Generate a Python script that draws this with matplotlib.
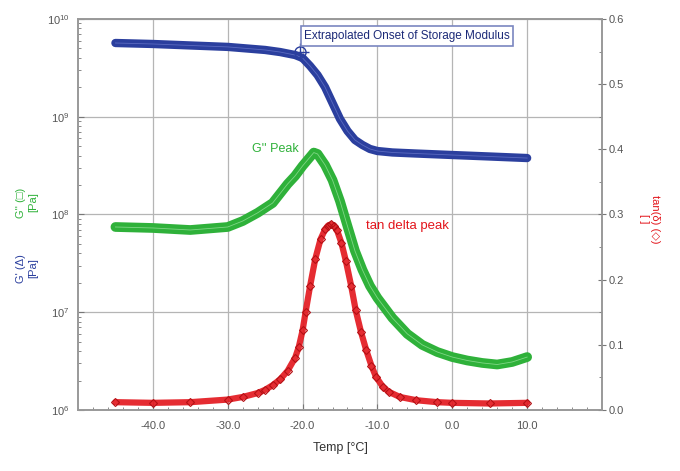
import matplotlib
matplotlib.use("Agg")
import matplotlib.pyplot as plt
from matplotlib.ticker import LogLocator, MultipleLocator, NullFormatter, FixedLocator

plt.rcParams['font.family'] = ['Liberation Sans', 'DejaVu Sans']

# Storage modulus G' (Pa)
t_gp = [-45, -40, -35, -30, -25, -23, -21, -20, -19, -18, -17, -16, -15, -14, -13, -12,
        -11, -10, -8, -5, 0, 5, 10]
g_prime = [5.68e9, 5.55e9, 5.36e9, 5.18e9, 4.82e9, 4.59e9, 4.28e9, 3.99e9, 3.31e9, 2.67e9,
           2.01e9, 1.38e9, 9.5e8, 7.15e8, 5.78e8, 5.14e8, 4.68e8, 4.46e8, 4.31e8, 4.21e8,
           4.06e8, 3.92e8, 3.78e8]

# Loss modulus G'' (Pa)
t_gpp = [-45, -40, -35, -30, -28, -26, -24, -22, -21, -20, -19, -18.5, -18, -17, -16, -15,
         -14, -13, -12, -11, -10, -8, -6, -4, -2, 0, 2, 4, 6, 8, 10]
g_dprime = [7.45e7, 7.28e7, 6.94e7, 7.45e7, 8.57e7, 1.04e8, 1.31e8, 2.05e8, 2.48e8, 3.14e8,
            3.87e8, 4.30e8, 4.16e8, 3.21e8, 2.25e8, 1.37e8, 7.6e7, 4.24e7, 2.71e7, 1.86e7,
            1.40e7, 8.74e6, 6.0e6, 4.63e6, 3.92e6, 3.48e6, 3.21e6, 3.03e6, 2.92e6, 3.1e6, 3.48e6]

# tan delta
t_tan = [-45, -40, -35, -30, -28, -26, -25, -24, -23, -22, -21, -20.5, -20, -19.6, -19,
         -18.3, -17.6, -17, -16.6, -16.2, -15.8, -15.4, -14.8, -14.2, -13.5, -12.9, -12.2,
         -11.5, -10.8, -10.2, -9.3, -8.5, -7, -4.8, -2, 0, 5, 10]
tan_delta = [0.012, 0.011, 0.012, 0.016, 0.020, 0.026, 0.031, 0.038, 0.047, 0.060, 0.080,
             0.097, 0.122, 0.150, 0.190, 0.232, 0.262, 0.277, 0.283, 0.285, 0.283, 0.276,
             0.256, 0.228, 0.190, 0.153, 0.120, 0.092, 0.068, 0.051, 0.036, 0.028,
             0.020, 0.015, 0.012, 0.011, 0.010, 0.011]

onset_t, onset_g = -20.3, 4.6e9
x_ticks = [-40, -30, -20, -10, 0, 10]
x_ticklabels = ['-40.0', '-30.0', '-20.0', '-10.0', '0.0', '10.0']

BLUE = '#2b3f9e'
GREEN = '#2fb13a'
RED = '#e3151c'
TXT = '#555555'

fig = plt.figure(figsize=(6.8, 4.71), dpi=100)
ax = fig.add_axes([0.1147, 0.1295, 0.7706, 0.8302])
ax2 = ax.twinx()

ax.set_yscale('log')
ax.set_xlim(-50, 20)
ax.set_ylim(1e6, 1e10)
ax2.set_ylim(0, 0.6)

ax.grid(True, which='major', color='#b5b5b5', lw=0.9)
ax.set_axisbelow(True)

ax.plot(t_gp, g_prime, color=BLUE, lw=6, solid_capstyle='round', solid_joinstyle='round', zorder=3)
ax.plot(t_gp, g_prime, color='#5a6ac0', lw=0.6, zorder=4)
ax.plot(t_gpp, g_dprime, color=GREEN, lw=7, solid_capstyle='round', solid_joinstyle='round', zorder=3)
ax.plot(t_gpp, g_dprime, color='#7fd685', lw=0.6, zorder=4)
ax2.plot(t_tan, tan_delta, color=RED, lw=4.5, alpha=0.9, solid_capstyle='round',
         solid_joinstyle='round', zorder=3)
ax2.plot(t_tan, tan_delta, ls='none', marker='D', ms=4.5, mfc='none', mec='#b50f14', mew=0.8, zorder=4)

# onset marker
ax.plot([onset_t], [onset_g], marker='o', ms=8, mfc='none', mec=BLUE, mew=1.0, zorder=5)
ax.plot([onset_t], [onset_g], marker='+', ms=13, mec=BLUE, mew=1.0, zorder=5)

ax.xaxis.set_major_locator(FixedLocator(x_ticks))
ax.set_xticklabels(x_ticklabels)
ax.xaxis.set_minor_locator(MultipleLocator(2))
ax.yaxis.set_major_locator(LogLocator(base=10, numticks=10))
ax.yaxis.set_minor_locator(LogLocator(base=10, subs=range(2, 10), numticks=10))
ax.yaxis.set_minor_formatter(NullFormatter())
ax2.yaxis.set_major_locator(MultipleLocator(0.1))
ax2.yaxis.set_minor_locator(MultipleLocator(0.05))
ax2.set_yticklabels([f'{v:.1f}' for v in ax2.get_yticks()])

for a in (ax, ax2):
    a.tick_params(which='both', direction='in', colors='#777777', labelcolor=TXT, labelsize=8)
    a.tick_params(which='major', length=4)
    a.tick_params(which='minor', length=2)
    for s in a.spines.values():
        s.set_color('#999999')
        s.set_linewidth(1.2)
ax.tick_params(axis='x', pad=8)
ax.tick_params(axis='y', pad=6)
ax2.tick_params(axis='y', direction='inout', length=6, pad=2)

ax.set_xlabel('Temp [°C]', fontsize=9, color='#333333', labelpad=8)

fig.text(0.04, 0.43, "G' (Δ)\n[Pa]", rotation=90, color=BLUE, fontsize=8,
         ha='center', va='center', ma='center')
fig.text(0.04, 0.57, "G'' (□)\n[Pa]", rotation=90, color=GREEN, fontsize=8,
         ha='center', va='center', ma='center')
fig.text(0.955, 0.535, "tan(δ) (◇)\n[ ]", rotation=-90, color=RED, fontsize=8,
         ha='center', va='center', ma='center')

ax.text(-19.8, 6.7e9, 'Extrapolated Onset of Storage Modulus', fontsize=8.5, color='#1c2a78',
        ha='left', va='center', zorder=6,
        bbox=dict(boxstyle='square,pad=0.3', fc='white', ec='#7a86c0', lw=1.2))
ax.text(-26.8, 4.7e8, "G'' Peak", fontsize=9, color=GREEN, ha='left', va='center')
ax2.text(-11.5, 0.282, 'tan delta peak', fontsize=9.5, color=RED, ha='left', va='center')

fig.savefig('out.png', dpi=100)
